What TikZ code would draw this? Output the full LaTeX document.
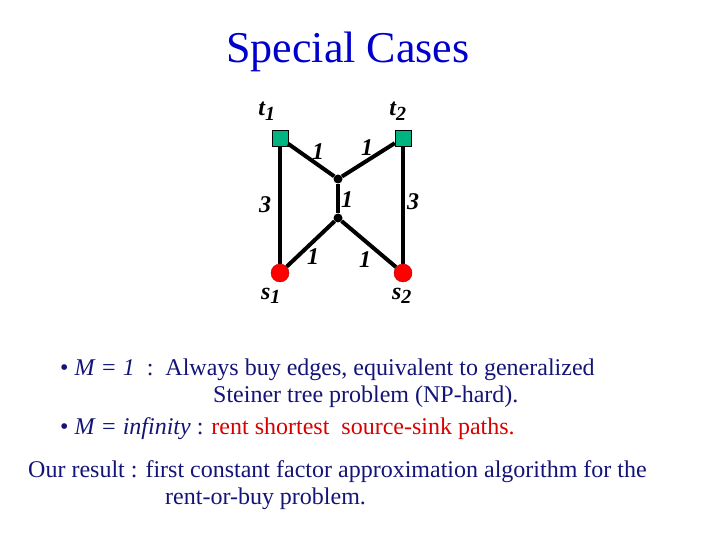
\documentclass[tikz,border=0pt]{standalone}
\usepackage{fontspec}
\setmainfont{Liberation Serif}
\definecolor{navy}{RGB}{20,20,120}
\definecolor{ttl}{RGB}{0,0,204}
\definecolor{sq}{RGB}{0,180,130}
\begin{document}
\begin{tikzpicture}[x=1pt,y=-1pt,
 edge/.style={line width=4pt},
 term/.style={draw=black,fill=sq,minimum size=16pt,inner sep=0pt,rectangle},
 src/.style={circle,fill=red,draw=red!70!black,minimum size=18pt,inner sep=0pt},
 junc/.style={circle,fill=black,minimum size=9pt,inner sep=0pt},
 lab/.style={font=\fontsize{24}{26}\selectfont\itshape\bfseries},
 txt/.style={font=\fontsize{24}{28}\selectfont,anchor=west,inner sep=0pt}]
\useasboundingbox (0,0) rectangle (720,540);
\node[font=\fontsize{44}{48}\selectfont,text=ttl] (title) at (348,52) {Special Cases};
\node[term] (t1) at (280,138) {};
\node[term] (t2) at (403,138) {};
\node[junc] (u) at (338,179) {};
\node[junc] (d) at (338,218) {};
\node[src] (s1) at (280,273) {};
\node[src] (s2) at (403,273) {};
\draw[edge] (t1) -- (s1);
\draw[edge] (t2) -- (s2);
\draw[edge] (t1) -- (u);
\draw[edge] (t2) -- (u);
\draw[edge] (u) -- (d);
\draw[edge] (d) -- (s1);
\draw[edge] (d) -- (s2);
\node[lab] (lt1) at (267,111) {t\textsubscript{\fontsize{20}{20}\selectfont 1}};
\node[lab] (lt2) at (398,111) {t\textsubscript{\fontsize{20}{20}\selectfont 2}};
\node[lab] (ls1) at (271,296) {s\textsubscript{\fontsize{20}{20}\selectfont 1}};
\node[lab] (ls2) at (402,296) {s\textsubscript{\fontsize{20}{20}\selectfont 2}};
\node[lab] (a) at (318,152) {1};
\node[lab] (b) at (367,148) {1};
\node[lab] (c) at (347,200) {1};
\node[lab] (e) at (265,205) {3};
\node[lab] (f) at (413,202) {3};
\node[lab] (g) at (313,257) {1};
\node[lab] (h) at (365,260) {1};
\node[txt,text=navy] (l1) at (60,370) {\textbullet{} \textit{M = 1}\ \ :\ \ Always buy edges, equivalent to generalized};
\node[txt,text=navy] (l2) at (213,397) {Steiner tree problem (NP-hard).};
\node[txt] (l3) at (60,429) {\textcolor{navy}{\textbullet{} \textit{M = infinity} :} \textcolor{red!85!black}{rent shortest\ \ source-sink paths.}};
\node[txt,text=navy] (l4) at (28,472) {Our result : first constant factor approximation algorithm for the};
\node[txt,text=navy] (l5) at (165,499) {rent-or-buy problem.};
\end{tikzpicture}
\end{document}
